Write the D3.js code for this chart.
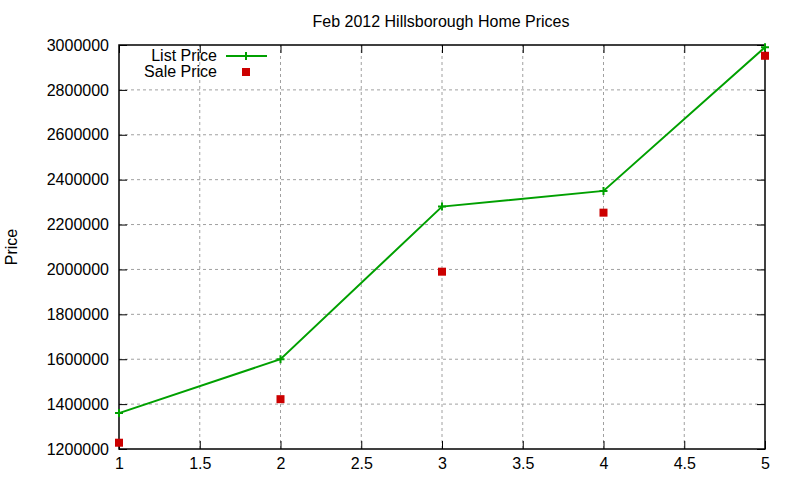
<!DOCTYPE html><html>
<head>
<meta charset="utf-8">
<script src="https://cdnjs.cloudflare.com/ajax/libs/d3/7.8.5/d3.min.js"></script>
<style>
  body { margin: 0; background: #ffffff; }
  text { font-family: "Liberation Sans", Arial, sans-serif; }
</style>
</head>
<body>
<svg id="chart" width="800" height="480"></svg>
<script>
var xValues = [1, 2, 3, 4, 5];
var listPrice = [1360000, 1600000, 2280000, 2350000, 2990000];
var salePrice = [1228000, 1422000, 1990000, 2253000, 2952000];
var xTicks = [1, 1.5, 2, 2.5, 3, 3.5, 4, 4.5, 5];
var yTicks = [1200000, 1400000, 1600000, 1800000, 2000000, 2200000, 2400000, 2600000, 2800000, 3000000];

// note: "top" is taken by window.top, so use plot* names
var plotLeft = 119, plotRight = 765, plotTop = 45, plotBottom = 449;
var svg = d3.select("#chart");

var x = d3.scaleLinear().domain([1, 5]).range([plotLeft, plotRight]);
var y = d3.scaleLinear().domain([1200000, 3000000]).range([plotBottom, plotTop]);

// grid
var grid = svg.append("g").attr("stroke", "#a0a0a0").attr("stroke-width", 1).attr("stroke-dasharray", "3,3");
xTicks.slice(1, -1).forEach(function(t) {
  grid.append("line").attr("x1", x(t)).attr("x2", x(t)).attr("y1", plotBottom).attr("y2", plotTop);
});
yTicks.slice(1, -1).forEach(function(t) {
  grid.append("line").attr("x1", plotLeft).attr("x2", plotRight).attr("y1", y(t)).attr("y2", y(t));
});

// axes, gnuplot style ticks pointing in, mirrored
var xAxisB = d3.axisBottom(x).tickValues(xTicks).tickSizeInner(-8).tickSizeOuter(0).tickPadding(9).tickFormat(d3.format(""));
var xAxisT = d3.axisTop(x).tickValues(xTicks).tickSizeInner(-8).tickSizeOuter(0).tickFormat("");
var yAxisL = d3.axisLeft(y).tickValues(yTicks).tickSizeInner(-8).tickSizeOuter(0).tickPadding(10).tickFormat(d3.format("d"));
var yAxisR = d3.axisRight(y).tickValues(yTicks).tickSizeInner(-8).tickSizeOuter(0).tickFormat("");

function styleAxis(g) {
  g.select(".domain").remove();
  g.selectAll(".tick line").attr("stroke", "#000");
  g.selectAll("text").attr("fill", "#000").style("font-size", "16px");
}
svg.append("g").attr("transform", "translate(0," + plotBottom + ")").call(xAxisB).call(styleAxis);
svg.append("g").attr("transform", "translate(0," + plotTop + ")").call(xAxisT).call(styleAxis);
svg.append("g").attr("transform", "translate(" + plotLeft + ",0)").call(yAxisL).call(styleAxis);
svg.append("g").attr("transform", "translate(" + plotRight + ",0)").call(yAxisR).call(styleAxis);

svg.append("rect").attr("x", plotLeft).attr("y", plotTop).attr("width", plotRight - plotLeft).attr("height", plotBottom - plotTop)
  .attr("fill", "none").attr("stroke", "#000").attr("stroke-width", 1.5);

// list price line
var line = d3.line().x(function(d, i) { return x(xValues[i]); }).y(function(d) { return y(d); });
svg.append("path").datum(listPrice).attr("d", line).attr("fill", "none")
  .attr("stroke", "#00a000").attr("stroke-width", 2);

function plus(g, cx, cy) {
  g.append("path").attr("d", "M" + (cx - 4) + "," + cy + "H" + (cx + 4) + "M" + cx + "," + (cy - 4) + "V" + (cy + 4))
    .attr("stroke", "#00a000").attr("stroke-width", 2);
}
var marks = svg.append("g");
listPrice.forEach(function(d, i) { plus(marks, x(xValues[i]), y(d)); });

// sale price squares
svg.append("g").selectAll("rect").data(salePrice).enter().append("rect")
  .attr("x", function(d, i) { return x(xValues[i]) - 4; })
  .attr("y", function(d) { return y(d) - 4; })
  .attr("width", 8).attr("height", 8).attr("fill", "#cc0000");

// legend
var leg = svg.append("g");
leg.append("text").attr("x", 217).attr("y", 61).attr("text-anchor", "end").style("font-size", "16px").text("List Price");
leg.append("line").attr("x1", 226).attr("x2", 267).attr("y1", 56).attr("y2", 56).attr("stroke", "#00a000").attr("stroke-width", 2);
plus(leg, 246, 56);
leg.append("text").attr("x", 217).attr("y", 77).attr("text-anchor", "end").style("font-size", "16px").text("Sale Price");
leg.append("rect").attr("x", 242).attr("y", 68).attr("width", 8).attr("height", 8).attr("fill", "#cc0000");

// title and axis label
svg.append("text").attr("x", 441).attr("y", 27).attr("text-anchor", "middle").style("font-size", "16px").text("Feb 2012 Hillsborough Home Prices");
svg.append("text").attr("transform", "translate(17,247) rotate(-90)").attr("text-anchor", "middle").style("font-size", "16px").text("Price");
</script>
</body>
</html>
